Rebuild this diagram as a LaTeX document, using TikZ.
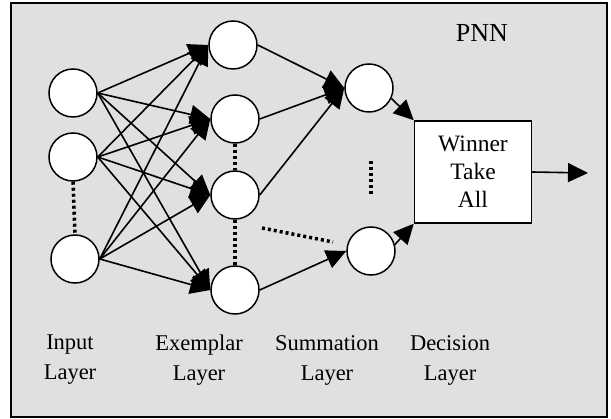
\documentclass[tikz,border=0pt]{standalone}
\usepackage{fontspec}
\setmainfont{Liberation Serif}
\usepackage{tikz}
\usetikzlibrary{arrows.meta}

\begin{document}
\begin{tikzpicture}[x=1pt, y=-1pt,
		neuron/.style={circle, draw, fill=white, line width=1.5pt, minimum size=48pt, inner sep=0pt},
		conn/.style={line width=1.6pt, -{Triangle[length=20pt, width=19pt]}},
		dots/.style={line width=3.5pt, dash pattern=on 3pt off 3pt},
		lbl/.style={align=center, font=\fontsize{22.5}{30}\selectfont}]
	\useasboundingbox (0, 0) rectangle (611, 419);
	\draw[fill=black!12, line width=1.2pt] (11, 3) rectangle (607, 417);
	% layers
	\node[neuron] (i1) at (73, 93) {};
	\node[neuron] (i2) at (73, 157) {};
	\node[neuron] (i3) at (75, 259) {};
	\node[neuron] (e1) at (233, 45) {};
	\node[neuron] (e2) at (235, 119) {};
	\node[neuron] (e3) at (235, 195) {};
	\node[neuron] (e4) at (235, 290) {};
	\node[neuron] (s1) at (369, 88) {};
	\node[neuron] (s2) at (371, 251) {};
	\node[draw, fill=white, line width=1.5pt, minimum width=117pt, minimum height=102pt, align=center,
		font=\fontsize{23.5}{28}\selectfont] (wta) at (473, 172) {Winner\\Take\\All};
	\coordinate (out) at (588, 173);
	\foreach \i in {1,2,3}
		\foreach \e in {1,2,3,4}
			\draw[conn] (i\i.east) -- (e\e.west);
	\foreach \e in {1,2,3}
		\draw[conn] (e\e.east) -- (s1.west);
	\draw[conn] (e4.east) -- (s2.west);
	\draw[conn] (s1.-25) -- (wta.north west);
	\draw[conn] (s2.15) -- (wta.south west);
	\draw[conn] (wta.east) -- (out);
	% dotted gaps
	\draw[dots] (i2.south) -- (i3.north);
	\draw[dots] (e2.south) -- (e3.north);
	\draw[dots] (e3.south) -- (e4.north);
	\coordinate (d1) at (371, 161);
	\coordinate (d2) at (371, 194);
	\coordinate (d3) at (262, 228);
	\coordinate (d4) at (333, 242);
	\draw[dots] (d1) -- (d2);
	\draw[dots] (d3) -- (d4);
	% labels
	\node[lbl, font=\fontsize{26}{30}\selectfont] (pnn) at (482, 33) {PNN};
	\node[lbl] (linput) at (70, 360) {Input\\Layer};
	\node[lbl] (lexemplar) at (199, 360) {Exemplar\\Layer};
	\node[lbl] (lsum) at (327, 360) {Summation\\Layer};
	\node[lbl] (ldecision) at (450, 360) {Decision\\Layer};
\end{tikzpicture}
\end{document}
